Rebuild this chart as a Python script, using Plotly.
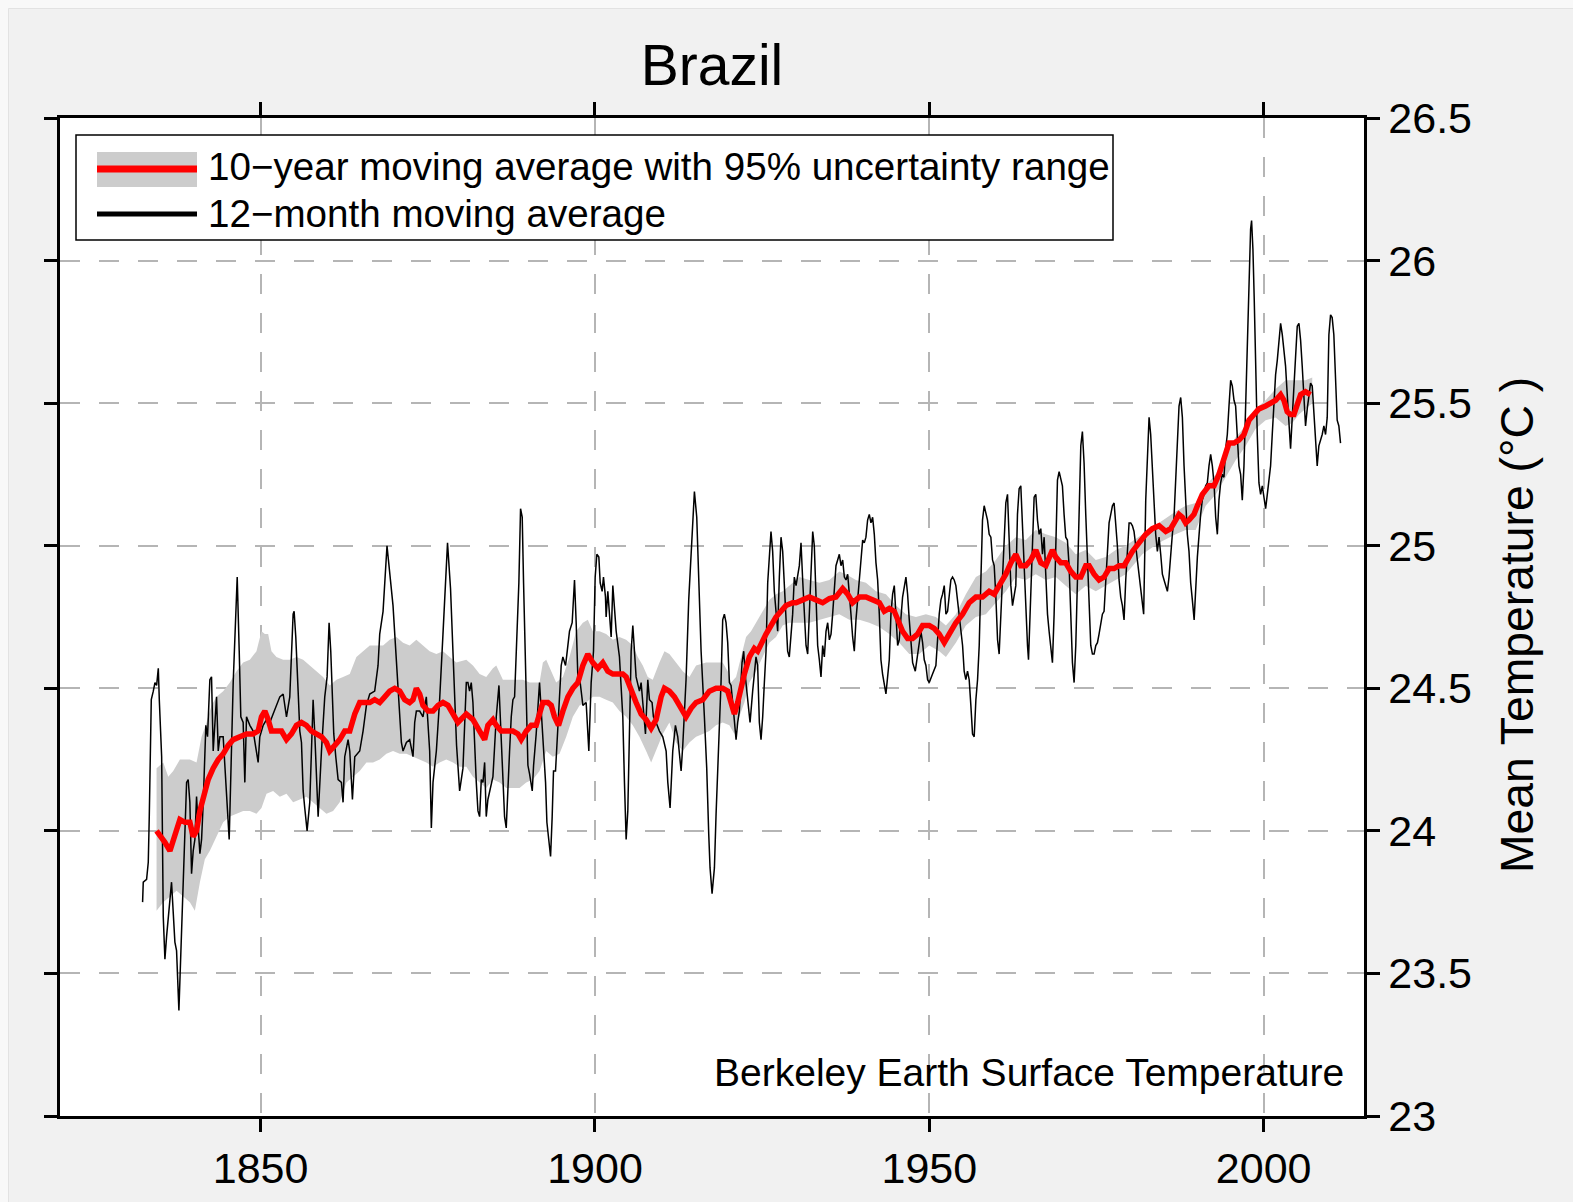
import plotly.graph_objects as go

# ---------------- data ----------------
# 12-month moving average (deg C)
ma12_year = [
    1832.35, 1832.45, 1832.95, 1833.2, 1833.35, 1833.55, 1833.65, 1833.95, 1834.2, 1834.45,
    1834.7, 1834.85, 1834.95, 1835.2, 1835.44, 1835.69, 1835.94, 1836.34, 1836.68, 1837.18,
    1837.43, 1837.78, 1838.18, 1838.58, 1838.93, 1839.17, 1839.42, 1839.67, 1839.92, 1840.17,
    1840.42, 1840.67, 1840.92, 1841.17, 1841.42, 1841.81, 1842.06, 1842.41, 1842.66, 1842.91,
    1843.16, 1843.41, 1843.66, 1843.91, 1844.4, 1844.9, 1845.3, 1845.9, 1846.15, 1846.5,
    1846.8, 1847.04, 1847.39, 1847.64, 1847.89, 1848.39, 1848.89, 1849.38, 1849.63, 1849.88,
    1850.38, 1850.88, 1851.38, 1851.87, 1852.37, 1852.87, 1853.37, 1853.87, 1854.36, 1854.86,
    1855.01, 1855.26, 1855.61, 1855.86, 1856.11, 1856.36, 1856.6, 1856.95, 1857.35, 1857.6,
    1857.85, 1858.1, 1858.35, 1858.6, 1859.1, 1859.59, 1859.94, 1860.24, 1860.49, 1860.74,
    1860.94, 1861.24, 1861.59, 1862.08, 1862.33, 1862.58, 1863.08, 1863.33, 1863.73, 1864.08,
    1864.82, 1865.32, 1865.82, 1866.32, 1867.06, 1867.56, 1867.81, 1868.31, 1868.56, 1868.9,
    1869.8, 1870.3, 1870.8, 1871.05, 1871.3, 1871.8, 1872.29, 1872.79, 1873.04, 1873.29,
    1873.79, 1874.28, 1874.78, 1875.28, 1875.53, 1875.78, 1876.28, 1876.77, 1877.27, 1877.52,
    1877.95, 1878.4, 1878.9, 1879.3, 1879.76, 1880.26, 1880.76, 1881.0, 1881.25, 1881.5,
    1881.75, 1882.0, 1882.25, 1882.5, 1882.75, 1883.0, 1883.25, 1883.5, 1883.74, 1883.99,
    1884.24, 1884.49, 1884.74, 1885.24, 1885.64, 1885.84, 1886.13, 1886.48, 1886.73, 1886.98,
    1887.23, 1887.48, 1887.73, 1887.98, 1888.23, 1888.62, 1888.87, 1889.12, 1889.32, 1889.62,
    1889.97, 1890.22, 1890.62, 1890.82, 1891.21, 1891.71, 1891.96, 1892.21, 1892.61, 1892.81,
    1893.11, 1893.36, 1893.6, 1893.8, 1894.1, 1894.3, 1894.55, 1894.95, 1895.2, 1895.6,
    1895.8, 1896.19, 1896.59, 1896.94, 1897.19, 1897.44, 1897.79, 1898.19, 1898.68, 1898.93,
    1899.08, 1899.43, 1899.78, 1900.03, 1900.28, 1900.58, 1900.78, 1901.07, 1901.27, 1901.57,
    1901.67, 1901.92, 1902.17, 1902.42, 1902.67, 1902.92, 1903.17, 1903.66, 1904.16, 1904.41,
    1904.66, 1904.91, 1905.16, 1905.41, 1905.66, 1905.91, 1906.15, 1906.65, 1906.9, 1907.15,
    1907.55, 1907.9, 1908.15, 1908.54, 1908.74, 1909.14, 1909.64, 1910.14, 1910.64, 1910.89,
    1911.23, 1911.63, 1912.03, 1912.38, 1912.63, 1912.88, 1913.13, 1913.62, 1914.02, 1914.37,
    1914.62, 1914.87, 1915.22, 1915.52, 1915.87, 1916.36, 1916.71, 1917.01, 1917.21, 1917.51,
    1917.86, 1918.11, 1918.5, 1918.85, 1919.1, 1919.35, 1919.6, 1919.85, 1920.1, 1920.35,
    1920.6, 1920.85, 1921.1, 1921.34, 1921.59, 1921.99, 1922.24, 1922.49, 1922.84, 1923.19,
    1923.58, 1923.83, 1924.08, 1924.33, 1924.58, 1924.83, 1925.08, 1925.33, 1925.58, 1925.83,
    1926.32, 1926.57, 1926.82, 1927.07, 1927.32, 1927.57, 1927.82, 1928.07, 1928.32, 1928.56,
    1928.81, 1929.06, 1929.31, 1929.56, 1929.81, 1930.07, 1930.56, 1930.81, 1931.06, 1931.31,
    1931.56, 1931.81, 1932.06, 1932.31, 1932.56, 1932.8, 1933.05, 1933.3, 1933.55, 1933.8,
    1934.05, 1934.3, 1934.55, 1934.8, 1935.05, 1935.3, 1935.54, 1935.79, 1936.04, 1936.29,
    1936.54, 1936.79, 1937.04, 1937.29, 1937.54, 1937.79, 1938.03, 1938.28, 1938.53, 1938.78,
    1939.03, 1939.28, 1939.53, 1939.78, 1940.03, 1940.27, 1940.52, 1940.77, 1941.02, 1941.27,
    1941.52, 1941.77, 1942.02, 1942.27, 1942.52, 1942.76, 1943.01, 1943.26, 1943.51, 1943.76,
    1944.01, 1944.26, 1944.51, 1944.76, 1945.01, 1945.26, 1945.5, 1946.0, 1946.5, 1946.75,
    1947.0, 1947.25, 1947.5, 1947.9, 1948.24, 1948.49, 1948.74, 1948.99, 1949.24, 1949.49,
    1949.74, 1949.99, 1950.24, 1950.48, 1950.98, 1951.23, 1951.48, 1951.73, 1951.98, 1952.23,
    1952.48, 1952.73, 1952.97, 1953.22, 1953.47, 1953.72, 1953.97, 1954.22, 1954.47, 1954.72,
    1954.97, 1955.21, 1955.46, 1955.71, 1955.96, 1956.21, 1956.46, 1956.71, 1956.96, 1957.21,
    1957.46, 1957.71, 1957.95, 1958.2, 1958.45, 1958.7, 1958.95, 1959.2, 1959.45, 1959.7,
    1959.95, 1960.2, 1960.44, 1960.69, 1960.94, 1961.19, 1961.44, 1961.69, 1961.94, 1962.19,
    1962.44, 1962.93, 1963.18, 1963.43, 1963.68, 1963.93, 1964.18, 1964.43, 1964.68, 1964.83,
    1965.03, 1965.42, 1965.67, 1965.92, 1966.17, 1966.42, 1966.67, 1966.92, 1967.17, 1967.42,
    1967.67, 1967.91, 1968.16, 1968.41, 1968.66, 1968.91, 1969.16, 1969.41, 1969.66, 1969.9,
    1970.15, 1970.4, 1970.65, 1970.9, 1971.15, 1971.4, 1971.65, 1971.9, 1972.15, 1972.4,
    1972.65, 1972.89, 1973.14, 1973.39, 1973.64, 1973.89, 1974.14, 1974.39, 1974.64, 1974.89,
    1975.14, 1975.38, 1975.63, 1975.88, 1976.13, 1976.38, 1976.63, 1976.88, 1977.13, 1977.38,
    1977.63, 1977.87, 1978.12, 1978.37, 1978.62, 1978.87, 1979.12, 1979.37, 1979.62, 1979.87,
    1980.12, 1980.37, 1980.61, 1980.86, 1981.11, 1981.36, 1981.61, 1981.86, 1982.05, 1982.36,
    1982.61, 1982.86, 1983.1, 1983.35, 1983.6, 1983.85, 1984.1, 1984.35, 1984.6, 1984.85,
    1985.1, 1985.35, 1985.6, 1985.84, 1986.09, 1986.34, 1986.59, 1986.84, 1987.09, 1987.34,
    1987.59, 1987.84, 1988.09, 1988.33, 1988.58, 1988.83, 1989.08, 1989.33, 1989.6, 1990.08,
    1990.33, 1990.57, 1990.82, 1991.07, 1991.32, 1991.57, 1991.82, 1992.07, 1992.32, 1992.57,
    1992.82, 1993.07, 1993.31, 1993.56, 1993.81, 1994.06, 1994.31, 1994.56, 1994.81, 1995.06,
    1995.31, 1995.56, 1995.8, 1996.05, 1996.3, 1996.55, 1996.8, 1997.05, 1997.3, 1997.55,
    1997.8, 1998.04, 1998.19, 1998.39, 1998.59, 1998.79, 1999.04, 1999.29, 1999.54, 1999.79,
    2000.04, 2000.29, 2000.54, 2000.78, 2001.03, 2001.28, 2001.53, 2001.78, 2002.03, 2002.28,
    2002.53, 2002.78, 2003.03, 2003.27, 2003.52, 2003.77, 2004.02, 2004.27, 2004.52, 2004.77,
    2005.02, 2005.27, 2005.52, 2005.76, 2006.01, 2006.26, 2006.51, 2006.76, 2007.01, 2007.26,
    2007.51, 2007.76, 2008.0, 2008.25, 2008.5, 2008.75, 2009.0, 2009.25, 2009.5, 2009.75,
    2010.0, 2010.24, 2010.49, 2010.74, 2010.99, 2011.24, 2011.49,
]
ma12_temp = [
    23.75, 23.82, 23.83, 23.89, 24.05, 24.36, 24.46, 24.49, 24.52, 24.51,
    24.57, 24.46, 24.38, 24.26, 23.70, 23.55, 23.63, 23.75, 23.82, 23.61,
    23.58, 23.37, 23.65, 23.93, 24.17, 24.18, 24.10, 23.85, 23.93, 23.97,
    24.12, 24.01, 23.92, 23.97, 24.10, 24.37, 24.33, 24.53, 24.54, 24.28,
    24.38, 24.47, 24.28, 24.33, 24.33, 24.12, 23.97, 24.52, 24.69, 24.89,
    24.63, 24.40, 24.38, 24.17, 24.40, 24.37, 24.35, 24.28, 24.24, 24.33,
    24.37, 24.39, 24.38, 24.41, 24.44, 24.47, 24.48, 24.40, 24.47, 24.76,
    24.77, 24.68, 24.49, 24.35, 24.31, 24.14, 24.08, 24.00, 24.10, 24.28,
    24.46, 24.34, 24.19, 24.05, 24.28, 24.47, 24.54, 24.73, 24.63, 24.49,
    24.34, 24.26, 24.18, 24.17, 24.10, 24.26, 24.32, 24.28, 24.11, 24.26,
    24.28, 24.35, 24.44, 24.48, 24.49, 24.58, 24.69, 24.77, 24.89, 25.00,
    24.79, 24.58, 24.40, 24.31, 24.28, 24.31, 24.32, 24.26, 24.38, 24.42,
    24.42, 24.40, 24.47, 24.28, 24.01, 24.17, 24.28, 24.46, 24.69, 24.80,
    25.01, 24.85, 24.55, 24.30, 24.14, 24.22, 24.52, 24.52, 24.49, 24.52,
    24.45, 24.28, 24.17, 24.07, 24.05, 24.18, 24.17, 24.24, 24.05, 24.11,
    24.14, 24.17, 24.19, 24.40, 24.51, 24.40, 24.23, 24.05, 24.01, 24.17,
    24.28, 24.40, 24.46, 24.47, 24.63, 24.87, 25.13, 25.10, 24.87, 24.52,
    24.23, 24.20, 24.14, 24.23, 24.34, 24.52, 24.42, 24.34, 24.17, 24.03,
    23.96, 23.91, 24.05, 24.21, 24.21, 24.31, 24.40, 24.58, 24.61, 24.58,
    24.62, 24.70, 24.73, 24.88, 24.73, 24.54, 24.52, 24.44, 24.45, 24.34,
    24.28, 24.52, 24.63, 24.89, 24.97, 24.96, 24.87, 24.84, 24.89, 24.82,
    24.75, 24.84, 24.75, 24.68, 24.86, 24.77, 24.70, 24.61, 24.40, 24.17,
    23.97, 24.07, 24.40, 24.63, 24.72, 24.63, 24.54, 24.49, 24.52, 24.45,
    24.34, 24.53, 24.46, 24.45, 24.40, 24.38, 24.35, 24.33, 24.28, 24.17,
    24.08, 24.28, 24.37, 24.33, 24.26, 24.21, 24.30, 24.53, 24.81, 24.98,
    25.10, 25.19, 25.10, 24.87, 24.63, 24.40, 24.22, 23.99, 23.87, 23.78,
    23.87, 24.06, 24.28, 24.52, 24.74, 24.76, 24.73, 24.66, 24.52, 24.51,
    24.45, 24.37, 24.32, 24.38, 24.42, 24.59, 24.63, 24.54, 24.45, 24.38,
    24.49, 24.54, 24.61, 24.58, 24.38, 24.32, 24.40, 24.52, 24.63, 24.87,
    25.05, 24.98, 24.84, 24.77, 24.70, 24.89, 25.03, 24.98, 24.87, 24.75,
    24.63, 24.61, 24.70, 24.76, 24.89, 24.86, 24.93, 25.01, 24.88, 24.76,
    24.65, 24.62, 24.76, 24.94, 25.05, 25.00, 24.82, 24.65, 24.60, 24.54,
    24.65, 24.61, 24.70, 24.73, 24.67, 24.69, 24.76, 24.83, 24.93, 24.95,
    24.97, 24.93, 24.95, 24.89, 24.88, 24.90, 24.84, 24.76, 24.68, 24.63,
    24.74, 24.82, 24.88, 24.95, 25.02, 25.01, 25.03, 25.09, 25.11, 25.08,
    25.10, 25.04, 24.94, 24.88, 24.76, 24.60, 24.55, 24.51, 24.48, 24.54,
    24.60, 24.76, 24.83, 24.86, 24.76, 24.65, 24.67, 24.82, 24.89, 24.83,
    24.74, 24.65, 24.59, 24.56, 24.62, 24.67, 24.70, 24.66, 24.60, 24.58,
    24.53, 24.52, 24.54, 24.55, 24.58, 24.69, 24.76, 24.81, 24.83, 24.86,
    24.76, 24.77, 24.83, 24.88, 24.89, 24.88, 24.86, 24.81, 24.76, 24.70,
    24.65, 24.56, 24.53, 24.56, 24.53, 24.44, 24.34, 24.33, 24.46, 24.53,
    24.65, 24.88, 25.09, 25.14, 25.11, 25.09, 25.04, 25.03, 24.95, 24.93,
    24.82, 24.67, 24.62, 24.76, 24.88, 25.06, 25.15, 25.18, 25.00, 24.86,
    24.79, 24.86, 25.11, 25.20, 25.21, 25.06, 24.93, 24.76, 24.65, 24.60,
    24.76, 25.00, 25.17, 25.18, 25.09, 25.04, 25.06, 24.97, 25.03, 24.88,
    24.76, 24.70, 24.65, 24.59, 24.76, 25.06, 25.23, 25.26, 25.23, 25.21,
    25.11, 25.03, 25.02, 24.93, 24.76, 24.59, 24.52, 24.65, 24.88, 25.17,
    25.35, 25.40, 25.29, 25.11, 24.94, 24.76, 24.65, 24.62, 24.62, 24.65,
    24.66, 24.69, 24.73, 24.76, 24.77, 24.88, 25.00, 25.08, 25.11, 25.14,
    25.15, 25.09, 25.00, 24.88, 24.82, 24.79, 24.74, 24.88, 25.00, 25.08,
    25.08, 25.07, 25.05, 25.00, 24.95, 24.89, 24.86, 24.81, 24.76, 25.16,
    25.34, 25.45, 25.39, 25.28, 25.16, 25.04, 24.98, 25.03, 24.97, 24.90,
    24.88, 24.86, 24.84, 24.89, 24.98, 25.04, 25.10, 25.22, 25.39, 25.49,
    25.52, 25.45, 25.28, 25.16, 25.04, 24.98, 24.87, 24.81, 24.74, 24.96,
    25.04, 25.11, 25.16, 25.18, 25.21, 25.22, 25.28, 25.32, 25.28, 25.22,
    25.10, 25.04, 25.16, 25.22, 25.25, 25.24, 25.34, 25.39, 25.49, 25.58,
    25.56, 25.51, 25.49, 25.39, 25.28, 25.25, 25.16, 25.28, 25.51, 25.74,
    25.98, 26.11, 26.14, 26.04, 25.86, 25.63, 25.39, 25.22, 25.18, 25.21,
    25.16, 25.13, 25.18, 25.24, 25.28, 25.39, 25.51, 25.60, 25.65, 25.72,
    25.78, 25.74, 25.69, 25.63, 25.53, 25.45, 25.34, 25.45, 25.57, 25.69,
    25.77, 25.78, 25.72, 25.63, 25.51, 25.42, 25.48, 25.53, 25.57, 25.56,
    25.45, 25.34, 25.28, 25.35, 25.37, 25.39, 25.42, 25.39, 25.45, 25.74,
    25.81, 25.80, 25.74, 25.57, 25.44, 25.42, 25.36,
]

# 10-year moving average (deg C)
ma10_year = [
    1834.44, 1835.19, 1835.69, 1836.44, 1836.93, 1837.43, 1837.93, 1838.68, 1839.42, 1839.92,
    1840.42, 1840.92, 1841.42, 1842.16, 1842.91, 1843.66, 1844.4, 1845.15, 1845.9, 1846.89,
    1847.89, 1848.89, 1849.63, 1850.13, 1850.63, 1851.13, 1851.62, 1852.37, 1853.12, 1853.87,
    1854.61, 1855.36, 1856.11, 1856.85, 1857.6, 1858.35, 1859.1, 1859.84, 1860.34, 1861.09,
    1861.83, 1862.58, 1863.33, 1864.08, 1864.82, 1865.57, 1866.32, 1867.06, 1867.81, 1868.56,
    1869.3, 1870.05, 1870.8, 1871.55, 1872.29, 1872.79, 1873.29, 1873.79, 1874.28, 1875.03,
    1875.78, 1876.53, 1877.27, 1878.02, 1878.77, 1879.51, 1880.76, 1881.75, 1882.75, 1883.5,
    1883.99, 1884.74, 1885.24, 1885.98, 1886.73, 1887.73, 1888.48, 1888.97, 1889.72, 1890.47,
    1891.21, 1891.71, 1892.21, 1892.96, 1893.46, 1893.95, 1894.55, 1895.2, 1895.95, 1896.69,
    1897.44, 1898.19, 1898.93, 1899.68, 1900.43, 1901.17, 1901.92, 1902.67, 1903.42, 1904.16,
    1904.66, 1905.41, 1906.15, 1906.9, 1907.65, 1908.4, 1909.14, 1909.89, 1910.39, 1911.13,
    1911.88, 1912.63, 1913.62, 1914.37, 1915.12, 1916.12, 1917.11, 1918.11, 1919.1, 1919.85,
    1920.35, 1920.85, 1921.34, 1921.84, 1922.34, 1923.09, 1923.83, 1924.33, 1925.08, 1925.58,
    1926.32, 1927.07, 1927.82, 1928.56, 1929.56, 1930.07, 1931.06, 1932.06, 1933.05, 1934.05,
    1935.05, 1936.04, 1937.04, 1937.79, 1938.53, 1939.53, 1940.52, 1941.52, 1942.52, 1943.26,
    1944.01, 1944.76, 1945.26, 1946.0, 1946.75, 1947.5, 1948.24, 1948.99, 1949.99, 1950.73,
    1951.48, 1952.23, 1952.97, 1953.97, 1954.97, 1955.96, 1956.96, 1957.95, 1958.95, 1959.7,
    1960.44, 1961.44, 1962.19, 1962.93, 1963.68, 1964.43, 1965.18, 1965.92, 1966.67, 1967.42,
    1968.41, 1968.91, 1969.66, 1970.4, 1971.15, 1971.9, 1972.65, 1973.39, 1973.89, 1974.64,
    1975.38, 1976.13, 1976.88, 1977.63, 1978.37, 1979.12, 1979.87, 1980.37, 1981.36, 1982.36,
    1983.35, 1984.35, 1985.35, 1986.09, 1986.84, 1987.34, 1987.84, 1988.33, 1988.83, 1989.58,
    1990.08, 1990.82, 1991.82, 1992.57, 1993.31, 1994.06, 1994.81, 1995.56, 1996.3, 1997.05,
    1997.8, 1998.54, 1999.29, 2000.29, 2001.03, 2001.78, 2002.53, 2003.03, 2003.52, 2004.02,
    2004.52, 2005.02, 2005.52, 2006.26, 2007.01,
]
ma10_temp = [
    24.00, 23.98, 23.96, 23.93, 23.97, 24.00, 24.04, 24.03, 24.03, 23.98,
    24.00, 24.07, 24.12, 24.18, 24.22, 24.25, 24.27, 24.30, 24.32, 24.33,
    24.34, 24.34, 24.35, 24.40, 24.42, 24.39, 24.35, 24.35, 24.35, 24.32,
    24.34, 24.37, 24.38, 24.37, 24.35, 24.34, 24.33, 24.31, 24.28, 24.30,
    24.32, 24.35, 24.35, 24.41, 24.45, 24.45, 24.45, 24.46, 24.45, 24.47,
    24.49, 24.50, 24.49, 24.46, 24.45, 24.46, 24.50, 24.48, 24.44, 24.42,
    24.42, 24.44, 24.45, 24.44, 24.41, 24.38, 24.41, 24.39, 24.35, 24.32,
    24.37, 24.39, 24.37, 24.35, 24.35, 24.35, 24.34, 24.32, 24.35, 24.37,
    24.37, 24.42, 24.45, 24.45, 24.44, 24.40, 24.37, 24.42, 24.47, 24.50,
    24.52, 24.58, 24.62, 24.59, 24.57, 24.59, 24.56, 24.55, 24.55, 24.55,
    24.54, 24.49, 24.45, 24.41, 24.39, 24.36, 24.39, 24.47, 24.50, 24.49,
    24.47, 24.44, 24.40, 24.43, 24.45, 24.46, 24.49, 24.50, 24.50, 24.49,
    24.45, 24.41, 24.45, 24.51, 24.55, 24.61, 24.64, 24.63, 24.67, 24.69,
    24.72, 24.75, 24.77, 24.79, 24.80, 24.80, 24.81, 24.82, 24.81, 24.80,
    24.815, 24.82, 24.85, 24.83, 24.80, 24.82, 24.82, 24.81, 24.80, 24.77,
    24.78, 24.77, 24.74, 24.70, 24.675, 24.675, 24.69, 24.72, 24.72, 24.71,
    24.69, 24.66, 24.69, 24.73, 24.76, 24.80, 24.82, 24.82, 24.84, 24.83,
    24.86, 24.90, 24.94, 24.97, 24.93, 24.93, 24.95, 24.985, 24.94, 24.93,
    24.985, 24.96, 24.94, 24.94, 24.91, 24.89, 24.89, 24.93, 24.93, 24.90,
    24.88, 24.89, 24.92, 24.92, 24.93, 24.93, 24.96, 24.98, 25.01, 25.04,
    25.06, 25.07, 25.05, 25.06, 25.09, 25.11, 25.10, 25.08, 25.09, 25.11,
    25.14, 25.18, 25.21, 25.21, 25.25, 25.31, 25.36, 25.36, 25.37, 25.39,
    25.44, 25.46, 25.48, 25.49, 25.50, 25.51, 25.53, 25.51, 25.47, 25.46,
    25.46, 25.50, 25.53, 25.54, 25.53,
]

# 95% uncertainty range of the 10-year average: upper and lower edges
band_hi_year = [
    1834.44, 1835.44, 1836.19, 1836.93, 1837.93, 1839.42, 1840.42, 1841.17, 1841.91, 1842.66,
    1843.41, 1844.4, 1845.4, 1846.4, 1847.39, 1848.39, 1849.38, 1850.13, 1850.63, 1851.13,
    1851.62, 1852.37, 1853.37, 1854.36, 1855.36, 1856.36, 1857.35, 1858.35, 1859.34, 1860.34,
    1861.34, 1862.33, 1863.33, 1864.32, 1865.32, 1866.32, 1867.31, 1868.31, 1869.3, 1870.3,
    1871.3, 1872.29, 1873.29, 1874.28, 1875.28, 1876.28, 1877.27, 1878.27, 1879.26, 1880.76,
    1881.75, 1882.75, 1883.74, 1884.74, 1885.24, 1886.23, 1887.23, 1888.23, 1889.22, 1890.22,
    1891.71, 1892.21, 1892.71, 1893.46, 1894.2, 1895.2, 1896.19, 1897.19, 1898.19, 1898.93,
    1899.68, 1900.68, 1901.67, 1902.67, 1903.66, 1904.66, 1905.66, 1906.4, 1907.15, 1907.9,
    1908.64, 1909.64, 1910.39, 1911.13, 1912.13, 1913.13, 1914.12, 1915.12, 1916.61, 1918.11,
    1919.1, 1919.85, 1920.35, 1921.1, 1921.84, 1922.59, 1923.34, 1924.08, 1925.08, 1926.07,
    1927.07, 1928.07, 1929.06, 1930.56, 1932.06, 1933.55, 1935.05, 1936.54, 1937.54, 1939.03,
    1940.52, 1942.02, 1943.51, 1945.01, 1946.5, 1947.99, 1949.49, 1950.98, 1952.48, 1953.97,
    1955.46, 1956.96, 1958.45, 1959.95, 1961.44, 1962.93, 1964.43, 1965.92, 1967.42, 1968.91,
    1970.4, 1971.9, 1973.39, 1974.89, 1976.38, 1977.87, 1979.37, 1981.86, 1984.35, 1986.84,
    1988.33, 1989.83, 1991.32, 1992.82, 1994.31, 1995.8, 1997.3, 1998.79, 2000.29, 2001.78,
    2003.27, 2004.77, 2006.26, 2007.26,
]
band_hi_temp = [
    24.22, 24.24, 24.19, 24.21, 24.25, 24.25, 24.24, 24.33, 24.38, 24.44,
    24.47, 24.49, 24.52, 24.56, 24.59, 24.60, 24.63, 24.70, 24.69, 24.69,
    24.63, 24.61, 24.60, 24.60, 24.61, 24.60, 24.58, 24.56, 24.54, 24.51,
    24.53, 24.54, 24.55, 24.61, 24.63, 24.65, 24.65, 24.65, 24.67, 24.68,
    24.66, 24.65, 24.67, 24.65, 24.63, 24.62, 24.63, 24.61, 24.59, 24.60,
    24.58, 24.55, 24.54, 24.57, 24.58, 24.53, 24.53, 24.53, 24.53, 24.52,
    24.52, 24.59, 24.60, 24.56, 24.52, 24.54, 24.61, 24.70, 24.73, 24.74,
    24.70, 24.70, 24.69, 24.67, 24.68, 24.67, 24.65, 24.61, 24.58, 24.54,
    24.53, 24.59, 24.63, 24.62, 24.59, 24.56, 24.54, 24.58, 24.59, 24.59,
    24.59, 24.56, 24.52, 24.54, 24.61, 24.68, 24.70, 24.73, 24.77, 24.81,
    24.83, 24.84, 24.86, 24.89, 24.88, 24.87, 24.88, 24.91, 24.90, 24.88,
    24.87, 24.84, 24.83, 24.79, 24.76, 24.75, 24.76, 24.75, 24.72, 24.76,
    24.83, 24.89, 24.91, 24.95, 25.00, 25.03, 25.02, 25.055, 25.04, 25.03,
    25.01, 24.97, 24.985, 24.95, 24.96, 24.985, 25.00, 25.04, 25.08, 25.12,
    25.14, 25.15, 25.21, 25.25, 25.32, 25.38, 25.42, 25.48, 25.51, 25.55,
    25.58, 25.58, 25.58, 25.59,
]
band_lo_year = [
    1834.44, 1835.44, 1836.44, 1837.43, 1838.43, 1839.42, 1840.17, 1840.92, 1841.66, 1842.41,
    1843.41, 1844.4, 1845.4, 1846.4, 1847.39, 1848.39, 1849.38, 1850.13, 1850.88, 1851.87,
    1852.87, 1853.87, 1854.86, 1855.86, 1856.85, 1857.85, 1858.85, 1859.84, 1860.84, 1861.83,
    1862.83, 1863.83, 1864.82, 1865.82, 1866.81, 1867.81, 1868.81, 1869.8, 1870.8, 1871.8,
    1872.79, 1873.79, 1874.78, 1875.78, 1876.77, 1877.77, 1878.77, 1879.76, 1880.76, 1881.75,
    1882.75, 1883.74, 1884.74, 1885.74, 1886.73, 1887.73, 1888.72, 1889.72, 1890.72, 1891.71,
    1892.71, 1893.7, 1894.7, 1895.7, 1896.69, 1897.69, 1898.68, 1899.68, 1900.68, 1901.67,
    1902.67, 1903.66, 1904.66, 1905.66, 1906.65, 1907.65, 1908.4, 1909.14, 1910.14, 1911.13,
    1912.13, 1913.13, 1914.12, 1915.12, 1916.12, 1917.11, 1918.11, 1919.1, 1920.1, 1920.85,
    1921.59, 1922.34, 1923.09, 1924.08, 1925.08, 1926.07, 1927.07, 1928.07, 1929.06, 1930.56,
    1932.06, 1933.55, 1935.05, 1936.54, 1938.03, 1939.53, 1941.02, 1942.52, 1944.01, 1945.5,
    1947.0, 1948.49, 1949.99, 1951.48, 1952.48, 1953.97, 1955.46, 1956.96, 1958.45, 1959.95,
    1961.44, 1962.93, 1964.43, 1965.92, 1967.42, 1968.91, 1970.4, 1971.9, 1973.39, 1974.89,
    1976.38, 1977.87, 1979.37, 1981.86, 1984.35, 1986.84, 1988.33, 1989.83, 1991.32, 1992.82,
    1994.31, 1995.8, 1997.3, 1998.79, 2000.29, 2001.78, 2003.27, 2004.27, 2005.27, 2006.76,
    2007.26,
]
band_lo_temp = [
    23.72, 23.75, 23.77, 23.79, 23.77, 23.75, 23.72, 23.82, 23.90, 23.93,
    23.98, 24.03, 24.05, 24.06, 24.07, 24.07, 24.06, 24.08, 24.13, 24.14,
    24.12, 24.13, 24.10, 24.11, 24.12, 24.10, 24.08, 24.06, 24.07, 24.10,
    24.17, 24.19, 24.21, 24.24, 24.24, 24.25, 24.27, 24.28, 24.27, 24.27,
    24.26, 24.25, 24.24, 24.225, 24.24, 24.25, 24.24, 24.225, 24.225, 24.19,
    24.17, 24.15, 24.18, 24.17, 24.15, 24.15, 24.15, 24.17, 24.18, 24.21,
    24.28, 24.26, 24.27, 24.33, 24.40, 24.44, 24.45, 24.47, 24.47, 24.46,
    24.45, 24.42, 24.40, 24.37, 24.33, 24.28, 24.24, 24.28, 24.34, 24.38,
    24.31, 24.28, 24.31, 24.33, 24.34, 24.35, 24.37, 24.38, 24.37, 24.34,
    24.40, 24.45, 24.52, 24.56, 24.61, 24.66, 24.68, 24.72, 24.73, 24.73,
    24.73, 24.74, 24.75, 24.76, 24.74, 24.74, 24.73, 24.715, 24.69, 24.66,
    24.62, 24.62, 24.65, 24.63, 24.61, 24.66, 24.72, 24.75, 24.76, 24.80,
    24.84, 24.89, 24.88, 24.90, 24.88, 24.89, 24.86, 24.83, 24.86, 24.84,
    24.86, 24.88, 24.90, 24.97, 25.01, 25.04, 25.055, 25.055, 25.14, 25.18,
    25.24, 25.30, 25.35, 25.41, 25.44, 25.45, 25.42, 25.43, 25.46, 25.49,
    25.50,
]

x_ticks = [1850, 1900, 1950, 2000]
y_ticks = [23, 23.5, 24, 24.5, 25, 25.5, 26, 26.5]

title_text = "Brazil"
legend_band_text = "10\u2212year moving average with 95% uncertainty range"
legend_line_text = "12\u2212month moving average"
y_title_text = "Mean Temperature (\u00b0C )"
credit_text = "Berkeley Earth Surface Temperature"

# ---------------- layout geometry (pixels) ----------------
W, H = 1573, 1202
PL, PR, PT, PB = 60, 1364, 118, 1116
FONT = "Liberation Sans, Arial, Helvetica, sans-serif"


def px_x(p):
    return (p - PL) / (PR - PL)


def px_y(p):
    return (PB - p) / (PB - PT)


fig = go.Figure()

# uncertainty band as a closed polygon
fig.add_trace(go.Scatter(
    x=band_hi_year + band_lo_year[::-1],
    y=band_hi_temp + band_lo_temp[::-1],
    fill="toself", fillcolor="rgb(204,204,204)",
    line=dict(width=0), mode="lines", hoverinfo="skip", showlegend=False,
))
# 12-month moving average
fig.add_trace(go.Scatter(
    x=ma12_year, y=ma12_temp, mode="lines",
    line=dict(color="black", width=1.5), showlegend=False,
))
# 10-year moving average
fig.add_trace(go.Scatter(
    x=ma10_year, y=ma10_temp, mode="lines",
    line=dict(color="rgb(255,0,0)", width=5.5), showlegend=False,
))

shapes = []
# light outer frame strips
shapes.append(dict(type="rect", xref="paper", yref="paper", layer="below",
                   x0=px_x(0), x1=px_x(W), y0=px_y(0), y1=px_y(8),
                   fillcolor="#f8f8f8", line=dict(width=0)))
shapes.append(dict(type="rect", xref="paper", yref="paper", layer="below",
                   x0=px_x(0), x1=px_x(8), y0=px_y(0), y1=px_y(H),
                   fillcolor="#f8f8f8", line=dict(width=0)))
shapes.append(dict(type="line", xref="paper", yref="paper", layer="below",
                   x0=px_x(8.5), x1=px_x(W), y0=px_y(8.5), y1=px_y(8.5),
                   line=dict(color="#e2e2e2", width=1)))
shapes.append(dict(type="line", xref="paper", yref="paper", layer="below",
                   x0=px_x(8.5), x1=px_x(8.5), y0=px_y(8.5), y1=px_y(H),
                   line=dict(color="#e2e2e2", width=1)))

# legend box and swatches
shapes.append(dict(type="rect", xref="paper", yref="paper", layer="above",
                   x0=px_x(76), x1=px_x(1113), y0=px_y(240), y1=px_y(135),
                   fillcolor="white", line=dict(color="black", width=1.5)))
shapes.append(dict(type="rect", xref="paper", yref="paper", layer="above",
                   x0=px_x(97), x1=px_x(197), y0=px_y(187), y1=px_y(152),
                   fillcolor="rgb(204,204,204)", line=dict(width=0)))
shapes.append(dict(type="line", xref="paper", yref="paper", layer="above",
                   x0=px_x(97), x1=px_x(197), y0=px_y(169), y1=px_y(169),
                   line=dict(color="rgb(255,0,0)", width=7)))
shapes.append(dict(type="line", xref="paper", yref="paper", layer="above",
                   x0=px_x(97), x1=px_x(197), y0=px_y(214), y1=px_y(214),
                   line=dict(color="black", width=5)))

annotations = [
    dict(text=legend_band_text, xref="paper", yref="paper", x=px_x(206), y=px_y(166),
         xanchor="left", yanchor="middle", showarrow=False,
         font=dict(family=FONT, size=38.6, color="black")),
    dict(text=legend_line_text, xref="paper", yref="paper", x=px_x(206), y=px_y(213),
         xanchor="left", yanchor="middle", showarrow=False,
         font=dict(family=FONT, size=38.6, color="black")),
    dict(text=credit_text, xref="paper", yref="paper", x=px_x(1346), y=px_y(1072),
         xanchor="right", yanchor="middle", showarrow=False,
         font=dict(family=FONT, size=39, color="black")),
    dict(text=y_title_text, xref="paper", yref="paper", x=px_x(1517), y=px_y(625),
         xanchor="center", yanchor="middle", textangle=-90, showarrow=False,
         font=dict(family=FONT, size=46.3, color="black")),
]

axis_common = dict(
    showline=True, linecolor="black", linewidth=2.5, mirror="ticks",
    ticks="outside", ticklen=13, tickwidth=2.5, tickcolor="black",
    showgrid=True, gridcolor="#b5b5b5", gridwidth=1.5, griddash="20px,19px",
    zeroline=False, automargin=False,
    tickfont=dict(family=FONT, size=43, color="black"),
)

fig.update_layout(
    width=W, height=H,
    margin=dict(l=PL, r=W - PR, t=PT, b=H - PB, pad=0),
    paper_bgcolor="#f1f1f1", plot_bgcolor="white",
    title=dict(text=title_text, x=0.5, xref="paper", xanchor="center",
               y=1 - 65 / H, yref="container", yanchor="middle",
               font=dict(family=FONT, size=57, color="black")),
    xaxis=dict(range=[1820, 2015], tickvals=x_ticks, **axis_common),
    yaxis=dict(range=[23, 26.5], tickvals=y_ticks, side="right", **axis_common),
    shapes=shapes,
    annotations=annotations,
    showlegend=False,
)

fig.write_html("out.html")
